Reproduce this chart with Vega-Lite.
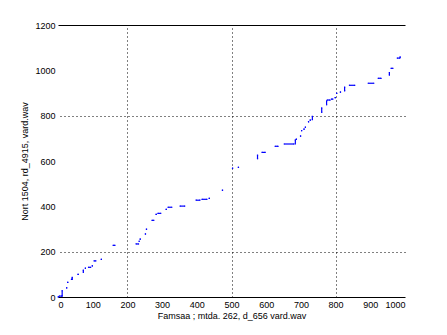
{
  "$schema": "https://vega.github.io/schema/vega-lite/v6.json",
  "autosize": "none",
  "width": 347,
  "height": 272,
  "padding": {"left": 58, "top": 25, "right": 42, "bottom": 38},
  "background": "white",
  "config": {
    "view": {"stroke": null},
    "font": "Liberation Sans",
    "axis": {"labelFont": "Liberation Sans", "titleFont": "Liberation Sans", "labelFontSize": 9, "titleFontSize": 9, "titleFontWeight": "normal", "labelColor": "black", "titleColor": "black", "domainColor": "black", "domainWidth": 1}
  },
  "data": {"values": [
    {"x1": 1, "y1": 1, "x2": 1, "y2": 1},
    {"x1": 4, "y1": 4, "x2": 11, "y2": 4},
    {"x1": 12, "y1": 4, "x2": 12, "y2": 28},
    {"x1": 25, "y1": 40, "x2": 25, "y2": 40},
    {"x1": 28, "y1": 65, "x2": 28, "y2": 65},
    {"x1": 39, "y1": 78, "x2": 39, "y2": 78},
    {"x1": 41, "y1": 78, "x2": 41, "y2": 87},
    {"x1": 58, "y1": 100, "x2": 58, "y2": 100},
    {"x1": 73, "y1": 109, "x2": 73, "y2": 119},
    {"x1": 79, "y1": 127, "x2": 79, "y2": 127},
    {"x1": 88, "y1": 131, "x2": 94, "y2": 131},
    {"x1": 99, "y1": 137, "x2": 99, "y2": 137},
    {"x1": 104, "y1": 159, "x2": 109, "y2": 159},
    {"x1": 125, "y1": 166, "x2": 125, "y2": 166},
    {"x1": 159, "y1": 228, "x2": 164, "y2": 228},
    {"x1": 225, "y1": 234, "x2": 232, "y2": 234},
    {"x1": 234, "y1": 246, "x2": 234, "y2": 246},
    {"x1": 237, "y1": 255, "x2": 237, "y2": 255},
    {"x1": 252, "y1": 278, "x2": 252, "y2": 278},
    {"x1": 255, "y1": 299, "x2": 255, "y2": 299},
    {"x1": 271, "y1": 338, "x2": 276, "y2": 338},
    {"x1": 283, "y1": 365, "x2": 283, "y2": 365},
    {"x1": 288, "y1": 369, "x2": 296, "y2": 369},
    {"x1": 312, "y1": 387, "x2": 312, "y2": 387},
    {"x1": 317, "y1": 396, "x2": 328, "y2": 396},
    {"x1": 352, "y1": 401, "x2": 365, "y2": 401},
    {"x1": 398, "y1": 427, "x2": 409, "y2": 427},
    {"x1": 415, "y1": 431, "x2": 429, "y2": 431},
    {"x1": 436, "y1": 435, "x2": 436, "y2": 435},
    {"x1": 474, "y1": 471, "x2": 474, "y2": 471},
    {"x1": 503, "y1": 568, "x2": 503, "y2": 568},
    {"x1": 520, "y1": 572, "x2": 520, "y2": 572},
    {"x1": 575, "y1": 610, "x2": 575, "y2": 626},
    {"x1": 588, "y1": 638, "x2": 597, "y2": 638},
    {"x1": 626, "y1": 665, "x2": 634, "y2": 665},
    {"x1": 652, "y1": 675, "x2": 680, "y2": 675},
    {"x1": 684, "y1": 676, "x2": 684, "y2": 693},
    {"x1": 687, "y1": 696, "x2": 687, "y2": 696},
    {"x1": 699, "y1": 710, "x2": 699, "y2": 710},
    {"x1": 702, "y1": 734, "x2": 702, "y2": 734},
    {"x1": 709, "y1": 741, "x2": 709, "y2": 741},
    {"x1": 713, "y1": 749, "x2": 713, "y2": 749},
    {"x1": 722, "y1": 773, "x2": 722, "y2": 773},
    {"x1": 727, "y1": 780, "x2": 727, "y2": 780},
    {"x1": 733, "y1": 783, "x2": 733, "y2": 797},
    {"x1": 760, "y1": 815, "x2": 760, "y2": 834},
    {"x1": 774, "y1": 848, "x2": 774, "y2": 865},
    {"x1": 776, "y1": 869, "x2": 784, "y2": 869},
    {"x1": 788, "y1": 873, "x2": 792, "y2": 873},
    {"x1": 799, "y1": 880, "x2": 799, "y2": 880},
    {"x1": 803, "y1": 898, "x2": 803, "y2": 898},
    {"x1": 814, "y1": 904, "x2": 814, "y2": 904},
    {"x1": 826, "y1": 909, "x2": 826, "y2": 926},
    {"x1": 840, "y1": 934, "x2": 855, "y2": 934},
    {"x1": 894, "y1": 943, "x2": 910, "y2": 943},
    {"x1": 923, "y1": 965, "x2": 931, "y2": 965},
    {"x1": 955, "y1": 979, "x2": 955, "y2": 990},
    {"x1": 960, "y1": 1009, "x2": 965, "y2": 1009},
    {"x1": 978, "y1": 1054, "x2": 985, "y2": 1054},
    {"x1": 986, "y1": 1058, "x2": 986, "y2": 1058}
  ]},
  "layer": [
    {
      "mark": {"type": "rule", "color": "#0000ff", "strokeWidth": 1.2},
      "encoding": {
        "x": {"field": "x1", "type": "quantitative", "scale": {"domain": [0, 1000], "nice": false},
              "axis": {"orient": "bottom", "values": [0,100,200,300,400,500,600,700,800,900,1000], "format": "d", "grid": false, "ticks": false, "domain": true, "labelPadding": 3, "title": "Famsaa ; mtda. 262, d_656 vard.wav", "titlePadding": 2}},
        "x2": {"field": "x2"},
        "y": {"field": "y1", "type": "quantitative", "scale": {"domain": [0, 1200], "nice": false},
              "axis": {"orient": "left", "values": [0,200,400,600,800,1000,1200], "format": "d", "grid": false, "ticks": false, "domain": false, "labelPadding": 3, "title": "Nort 1504, rd_4915, vard.wav", "titlePadding": 5}},
        "y2": {"field": "y2"}
      }
    },
    {
      "mark": {"type": "square", "color": "#0000ff", "size": 1.5, "opacity": 1},
      "encoding": {
        "x": {"field": "x1", "type": "quantitative",
              "axis": {"orient": "top", "values": [200, 500, 800], "grid": true, "gridColor": "black", "gridDash": [1, 3], "gridOpacity": 1, "gridWidth": 1, "labels": false, "ticks": false, "domain": true, "title": null}},
        "y": {"field": "y1", "type": "quantitative",
              "axis": {"orient": "right", "values": [200, 800], "grid": true, "gridColor": "black", "gridDash": [1, 3], "gridOpacity": 1, "gridWidth": 1, "labels": false, "ticks": false, "domain": false, "title": null}}
      }
    },
    {
      "mark": {"type": "square", "color": "#0000ff", "size": 1.5, "opacity": 1},
      "encoding": {
        "x": {"field": "x2", "type": "quantitative", "axis": null},
        "y": {"field": "y2", "type": "quantitative", "axis": null}
      }
    }
  ],
  "resolve": {"axis": {"x": "independent", "y": "independent"}}
}
